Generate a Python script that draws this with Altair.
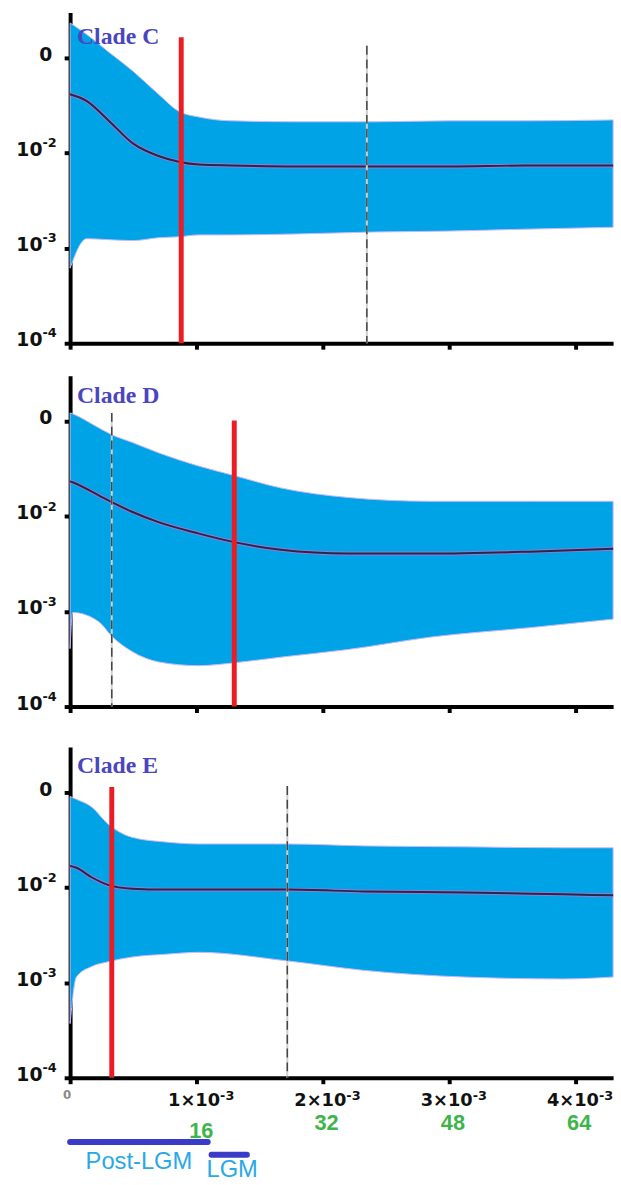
import altair as alt
import pandas as pd

# x: time in units of 1e-3 substitutions/site ; y: log10(Ne*tau)
c_x   = [0, 0.13, 0.3, 0.5, 0.7, 0.86, 1.02, 1.28, 1.8, 2.4, 3.0, 3.6, 4.3]
c_hi  = [-0.63, -0.75, -0.93, -1.14, -1.38, -1.56, -1.62, -1.66, -1.67, -1.67, -1.66, -1.66, -1.65]
c_med = [-1.38, -1.45, -1.65, -1.90, -2.03, -2.09, -2.12, -2.13, -2.14, -2.14, -2.14, -2.13, -2.13]
c_lo  = [-3.21, -2.90, -2.91, -2.92, -2.89, -2.88, -2.86, -2.86, -2.85, -2.83, -2.82, -2.80, -2.78]

d_x   = [0, 0.02, 0.23, 0.33, 0.49, 0.7, 1.02, 1.3, 1.67, 2.2, 2.85, 3.64, 4.3]
d_hi  = [-0.91, -0.92, -1.07, -1.14, -1.22, -1.33, -1.47, -1.57, -1.70, -1.80, -1.84, -1.84, -1.84]
d_med = [-1.63, -1.64, -1.78, -1.85, -1.95, -2.06, -2.18, -2.27, -2.35, -2.39, -2.39, -2.37, -2.34]
d_lo  = [-3.39, -3.01, -3.11, -3.26, -3.42, -3.53, -3.57, -3.54, -3.48, -3.40, -3.27, -3.17, -3.08]

e_x   = [0, 0.05, 0.17, 0.3, 0.49, 0.76, 1.02, 1.72, 2.33, 3.12, 3.91, 4.3]
e_hi  = [-1.04, -1.07, -1.15, -1.33, -1.47, -1.52, -1.54, -1.54, -1.56, -1.57, -1.58, -1.58]
e_med = [-1.77, -1.79, -1.89, -1.97, -2.01, -2.02, -2.02, -2.02, -2.04, -2.05, -2.07, -2.08]
e_lo  = [-3.43, -2.94, -2.83, -2.78, -2.73, -2.70, -2.68, -2.77, -2.87, -2.94, -2.96, -2.94]

# vertical markers: (x, top)
c_red, c_dash = (0.88, -0.78), (2.35, -0.87)
d_red, d_dash = (1.30, -0.99), (0.33, -0.91)
e_red, e_dash = (0.33, -0.94), (1.72, -0.93)

# y tick labels: 10^-1 is printed as "0"
y_ticks = [-1, -2, -3, -4]
y_main = ["0", "10", "10", "10"]
y_sup = ["", "-2", "-3", "-4"]

# x tick labels
x_ticks = [0, 1, 2, 3, 4]
x_main = ["0", "1×10", "2×10", "3×10", "4×10"]
x_sup = ["", "-3", "-3", "-3", "-3"]

kyr_pos = [1, 2, 3, 4]
kyr_txt = ["16", "32", "48", "64"]

period_names = ["Post-LGM", "LGM"]
period_start = [0.0, 1.12]
period_end = [1.09, 1.40]

W, H = 550, 335
BLUE = "#00a3e6"
LABEL_FONT = "DejaVu Sans"

xs = alt.Scale(domain=[0, 4.3], nice=False, zero=False)
ys = alt.Scale(domain=[-4, -0.52], nice=False, zero=False)

y_axis = alt.Axis(
    values=y_ticks, labels=False, title=None, grid=False,
    domainColor="black", domainWidth=4,
    tickColor="black", tickWidth=4, tickSize=6,
    minExtent=71, maxExtent=71,
)
x_axis = alt.Axis(
    values=x_ticks, labels=False, title=None, grid=False,
    domainColor="black", domainWidth=4, tickColor="black", tickWidth=4, tickSize=6,
)
X = alt.X("x:Q", scale=xs, axis=x_axis)


def Y(field):
    return alt.Y(field, scale=ys, axis=y_axis)


def panel(x, hi, med, lo, red, dash, label, label_y, bottom=False):
    df = pd.DataFrame({"x": x, "hi": hi, "med": med, "lo": lo})
    base = alt.Chart(df)
    area = base.mark_area(color=BLUE, interpolate="monotone", stroke="#c9b8ff", strokeWidth=1).encode(
        x=X, y=Y("hi:Q"), y2="lo:Q")
    halo = base.mark_line(color="#8b7fd6", strokeWidth=4, interpolate="monotone").encode(
        x=X, y=Y("med:Q"))
    line = base.mark_line(color="#2b2548", strokeWidth=2, interpolate="monotone").encode(
        x=X, y=Y("med:Q"))
    ddf = pd.DataFrame({"x": [dash[0]], "top": [dash[1]]})
    rdf = pd.DataFrame({"x": [red[0]], "top": [red[1]]})
    dash_bg = alt.Chart(ddf).mark_rule(color="#cfcfcf", strokeWidth=2).encode(
        x=X, y=Y("top:Q"), y2=alt.value(H))
    dash_fg = alt.Chart(ddf).mark_rule(color="#444444", strokeWidth=1.5, strokeDash=[9, 5]).encode(
        x=X, y=Y("top:Q"), y2=alt.value(H))
    red_rule = alt.Chart(rdf).mark_rule(color="#ec1c24", strokeWidth=5).encode(
        x=X, y=Y("top:Q"), y2=alt.value(H))
    title = alt.Chart(pd.DataFrame({"t": [label]})).mark_text(
        font="Liberation Serif", fontWeight="bold", fontSize=24, color="#4a46c0",
        align="left", baseline="alphabetic").encode(
        x=alt.value(7), y=alt.value(label_y), text="t:N")

    ylab = pd.DataFrame({"v": y_ticks, "main": y_main, "sup": y_sup})
    ybase = alt.Chart(ylab)
    y_zero = ybase.transform_filter("datum.sup == ''").mark_text(
        font=LABEL_FONT, fontWeight="bold", fontSize=19, color="#111111",
        align="right", baseline="middle", dy=-3).encode(
        x=alt.value(-18), y=Y("v:Q"), text="main:N")
    y_ten = ybase.transform_filter("datum.sup != ''").mark_text(
        font=LABEL_FONT, fontWeight="bold", fontSize=19, color="#111111",
        align="right", baseline="middle", dy=-3).encode(
        x=alt.value(-28), y=Y("v:Q"), text="main:N")
    y_exp = ybase.transform_filter("datum.sup != ''").mark_text(
        font=LABEL_FONT, fontWeight="bold", fontSize=13, color="#111111",
        align="left", baseline="middle", dy=-10).encode(
        x=alt.value(-28), y=Y("v:Q"), text="sup:N")

    layers = [area, halo, line, dash_bg, dash_fg, red_rule, title, y_zero, y_ten, y_exp]
    if bottom:
        xlab = pd.DataFrame({"x": x_ticks, "main": x_main, "sup": x_sup})
        xbase = alt.Chart(xlab)
        x_zero = xbase.transform_filter("datum.sup == ''").mark_text(
            font=LABEL_FONT, fontWeight="bold", fontSize=12, color="#8a8a8a",
            align="center", baseline="middle", dx=-3).encode(
            x=X, y=alt.value(H + 17), text="main:N")
        x_main_t = xbase.transform_filter("datum.sup != ''").mark_text(
            font=LABEL_FONT, fontWeight="bold", fontSize=18, color="#111111",
            align="right", baseline="middle", dx=24).encode(
            x=X, y=alt.value(H + 24), text="main:N")
        x_exp = xbase.transform_filter("datum.sup != ''").mark_text(
            font=LABEL_FONT, fontWeight="bold", fontSize=13, color="#111111",
            align="left", baseline="middle", dx=24, dy=-6).encode(
            x=X, y=alt.value(H + 24), text="sup:N")

        kdf = pd.DataFrame({"x": kyr_pos, "t": kyr_txt, "i": list(range(len(kyr_pos)))})
        k_first = alt.Chart(kdf).transform_filter("datum.i == 0").mark_text(
            font="Liberation Sans", fontWeight="bold", fontSize=22, color="#3db54a", dx=5).encode(
            x=X, y=alt.value(H + 54), text="t:N")
        k_rest = alt.Chart(kdf).transform_filter("datum.i > 0").mark_text(
            font="Liberation Sans", fontWeight="bold", fontSize=22, color="#3db54a", dx=4).encode(
            x=X, y=alt.value(H + 46), text="t:N")
        pdf = pd.DataFrame({"name": period_names, "x": period_start, "x2": period_end,
                            "i": list(range(len(period_names)))})
        bar1 = alt.Chart(pdf).transform_filter("datum.i == 0").mark_rule(
            color="#3b3bc9", strokeWidth=6, strokeCap="round").encode(
            x=X, x2="x2:Q", y=alt.value(H + 65))
        bar2 = alt.Chart(pdf).transform_filter("datum.i == 1").mark_rule(
            color="#3b3bc9", strokeWidth=6, strokeCap="round").encode(
            x=X, x2="x2:Q", y=alt.value(H + 78))
        t1 = alt.Chart(pdf).transform_filter("datum.i == 0").transform_calculate(
            xm="(datum.x + datum.x2) / 2").mark_text(
            font="Liberation Sans", fontSize=24, color="#29a8e8").encode(
            x=alt.X("xm:Q", scale=xs, axis=x_axis), y=alt.value(H + 85), text="name:N")
        t2 = alt.Chart(pdf).transform_filter("datum.i == 1").transform_calculate(
            xm="(datum.x + datum.x2) / 2").mark_text(
            font="Liberation Sans", fontSize=24, color="#29a8e8", dx=3).encode(
            x=alt.X("xm:Q", scale=xs, axis=x_axis), y=alt.value(H + 94), text="name:N")
        layers += [x_zero, x_main_t, x_exp, k_first, k_rest, bar1, bar2, t1, t2]
    return alt.layer(*layers).properties(width=W, height=H)


pc = panel(c_x, c_hi, c_med, c_lo, c_red, c_dash, "Clade C", 32)
pd_ = panel(d_x, d_hi, d_med, d_lo, d_red, d_dash, "Clade D", 28)
pe = panel(e_x, e_hi, e_med, e_lo, e_red, e_dash, "Clade E", 26, bottom=True)

chart = alt.vconcat(alt.vconcat(pc, pd_, spacing=25), pe, spacing=33).properties(
    padding={"left": 0, "top": 5, "right": 0, "bottom": 0},
    background="white",
).configure_view(stroke=None)

chart.save("out.html", embed_options={"renderer": "svg", "actions": False})
